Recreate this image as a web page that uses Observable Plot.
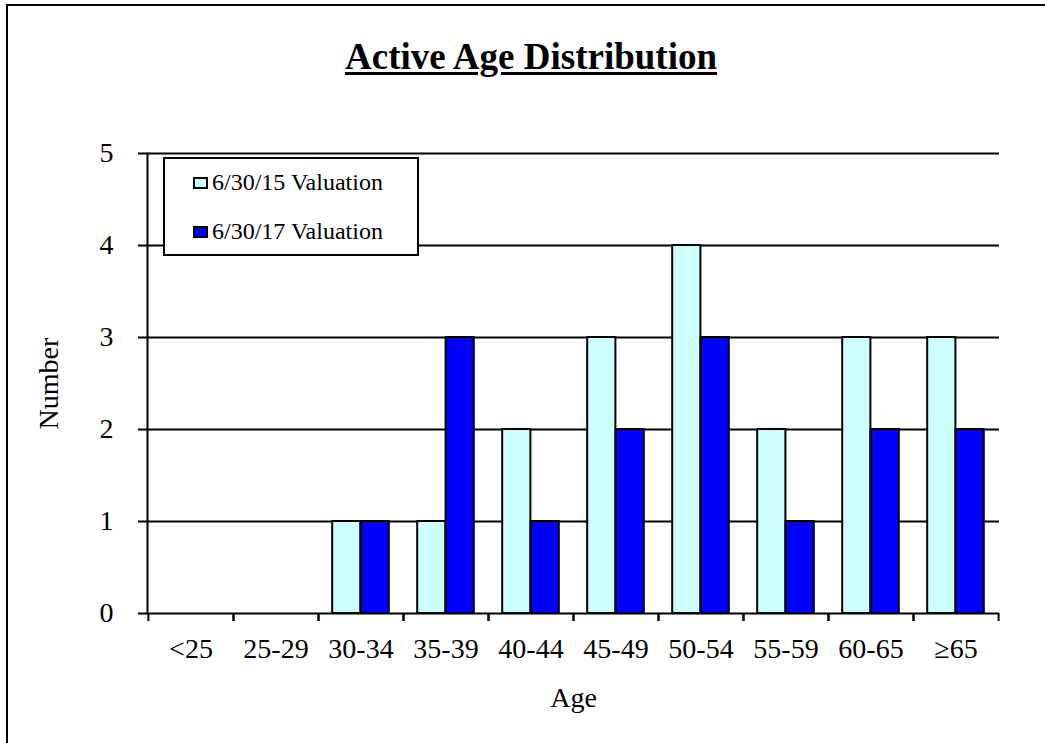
<!DOCTYPE html>
<html>
<head>
<meta charset="utf-8">
<script src="https://cdn.jsdelivr.net/npm/d3@7"></script>
<script src="https://cdn.jsdelivr.net/npm/@observablehq/plot@0.6"></script>
<style>
  html, body { margin: 0; padding: 0; background: #fff; overflow: hidden; }
  #page { position: relative; width: 1045px; height: 743px; overflow: hidden;
          font-family: "Liberation Serif", "Times New Roman", serif; color: #000; }
  #box { position: absolute; left: 6px; top: 4px; width: 1200px; height: 900px;
         border-left: 2px solid #000; border-top: 2px solid #000; }
  #title { position: absolute; left: 0; width: 1062px; top: 38px; text-align: center;
           font-size: 37px; line-height: 37px; font-weight: bold;
           text-decoration: underline; text-decoration-thickness: 3px; text-underline-offset: 3px; }
  #chart { position: absolute; left: 0; top: 0; }
  #legend { position: absolute; left: 0; top: 0; }
</style>
</head>
<body>
<div id="page">
  <div id="box"></div>
  <div id="title">Active Age Distribution</div>
  <div id="chart"></div>
  <svg id="legend" width="1045" height="743"></svg>
</div>
<script>
// Age bands and head counts at each valuation date
const ageGroups = ["<25", "25-29", "30-34", "35-39", "40-44", "45-49", "50-54", "55-59", "60-65", "≥65"];
const valuation2015 = [0, 0, 1, 1, 2, 3, 4, 2, 3, 3];
const valuation2017 = [0, 0, 1, 3, 1, 2, 3, 1, 2, 2];
const seriesNames = ["6/30/15 Valuation", "6/30/17 Valuation"];
const seriesColors = ["#CCFFFF", "#0000FF"];
const yTicks = [0, 1, 2, 3, 4, 5];

const W = 1045, H = 743;
const mL = 147, mR = 46, mT = 153, mB = 130;
const band = (W - mL - mR) / ageGroups.length;
const serif = '"Liberation Serif", "Times New Roman", serif';

const rows = ageGroups.flatMap((age, i) => [
  {age, series: seriesNames[0], value: valuation2015[i]},
  {age, series: seriesNames[1], value: valuation2017[i]}
]);

const chart = Plot.plot({
  width: W,
  height: H,
  marginLeft: mL,
  marginRight: mR,
  marginTop: mT,
  marginBottom: mB,
  style: {fontFamily: serif, fontSize: "28px", color: "#000", background: "transparent", overflow: "visible"},
  x: {domain: ageGroups, padding: 0},
  y: {domain: [0, 5]},
  color: {domain: seriesNames, range: seriesColors},
  marks: [
    Plot.gridY(yTicks.filter((d) => d > 0), {stroke: "#000", strokeOpacity: 1, strokeWidth: 2}),
    // two bars per age band: earlier valuation on the left half, later on the right
    Plot.barY(rows.filter((d) => d.series === seriesNames[0]), {
      x: "age", y: "value", fill: "series", stroke: "#000", strokeWidth: 2,
      insetLeft: band / 6, insetRight: band / 2
    }),
    Plot.barY(rows.filter((d) => d.series === seriesNames[1]), {
      x: "age", y: "value", fill: "series", stroke: "#000", strokeWidth: 2,
      insetLeft: band / 2, insetRight: band / 6
    }),
    Plot.frame({anchor: "left", stroke: "#000", strokeWidth: 2}),
    Plot.ruleY([0], {stroke: "#000", strokeWidth: 2}),
    Plot.axisY(yTicks, {
      tickSize: 9, tickPadding: 25, strokeWidth: 2, fontSize: 28, fontFamily: serif,
      tickFormat: d3.format("d"),
      label: "Number", labelAnchor: "center", labelArrow: "none", labelOffset: 109
    }),
    Plot.axisX({
      tickSize: 0, tickPadding: 25, fontSize: 28, fontFamily: serif,
      label: "Age", labelAnchor: "center", labelArrow: "none", labelOffset: 93
    }),
    // tick marks on the band boundaries
    Plot.axisX({text: null, label: null, tickSize: 8, strokeWidth: 2, dx: -band / 2}),
    Plot.axisX({text: null, label: null, tickSize: 8, strokeWidth: 2, dx: band / 2})
  ]
});
document.getElementById("chart").append(chart);

// legend box over the upper-left of the plot
const lg = d3.select("#legend");
lg.append("rect")
  .attr("x", 164).attr("y", 158).attr("width", 254).attr("height", 97)
  .attr("fill", "#fff").attr("stroke", "#000").attr("stroke-width", 2);
seriesNames.forEach((name, i) => {
  const base = 190 + i * 49;
  lg.append("rect")
    .attr("x", 194).attr("y", base - 12).attr("width", 13).attr("height", 10)
    .attr("fill", seriesColors[i]).attr("stroke", "#000").attr("stroke-width", 2);
  lg.append("text")
    .attr("x", 212).attr("y", base)
    .style("font-family", serif).style("font-size", "24px")
    .text(name);
});
</script>
</body>
</html>
